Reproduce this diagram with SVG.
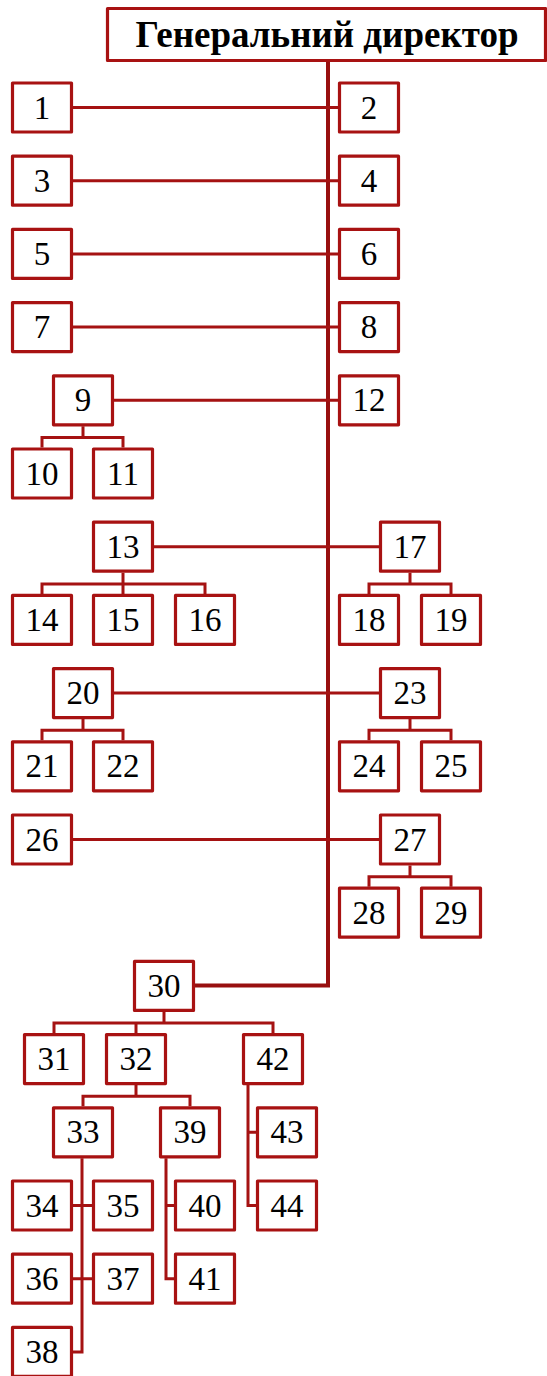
<svg xmlns="http://www.w3.org/2000/svg" width="547" height="1376" viewBox="0 0 547 1376">
<style>
.b rect{fill:#fff;stroke:#A81212;stroke-width:3.2;stroke-linejoin:round}
.b text{font-family:"Liberation Serif","Times New Roman",serif;font-size:33px;fill:#000;text-anchor:middle}
.h text{font-weight:bold;font-size:37px}
.c path{fill:none;stroke:#A51212;stroke-width:3}
.c .s{stroke:#981010;stroke-width:4}
</style>
<rect width="547" height="1376" fill="#fff"/>
<g class="c" id="connectors">
<path class="s" d="M328,62 V985.5 H195"/>
<path d="M73,107.5 H338 M73,180.7 H338 M73,253.9 H338 M73,327.1 H338 M114,400.3 H338 M154,546.7 H379 M114,693.1 H379 M73,839.5 H379"/>
<path d="M83,426.3 V437.5 M42,447.5 V437.5 H123 V447.5"/>
<path d="M123,572.7 V583.9 M42,593.9 V583.9 H205 V593.9 M123,583.9 V593.9"/>
<path d="M410,572.7 V583.9 M369,593.9 V583.9 H451 V593.9"/>
<path d="M83,719.1 V730.3 M42,740.3 V730.3 H123 V740.3"/>
<path d="M410,719.1 V730.3 M369,740.3 V730.3 H451 V740.3"/>
<path d="M410,865.5 V876.7 M369,886.7 V876.7 H451 V886.7"/>
<path d="M164,1011.9 V1023.1 M54,1033.1 V1023.1 H273 V1033.1 M136,1023.1 V1033.1"/>
<path d="M136,1085.1 V1096.3 M83,1106.3 V1096.3 H190 V1106.3"/>
<path d="M248,1085.1 V1205.5 H256 M248,1132.3 H256"/>
<path d="M82,1158.3 V1351.9 H72 M72,1205.5 H92 M72,1278.7 H92"/>
<path d="M166,1158.3 V1278.7 H174 M166,1205.5 H174"/>
</g>
<g class="b h" id="director"><rect x="107.5" y="8.5" width="438" height="52"/><text x="327" y="47">Генеральний директор</text></g>
<g class="b" id="n1" transform="translate(11,81.5)"><rect x="1.5" y="1.5" width="59" height="49"/><text x="31" y="37">1</text></g>
<g class="b" id="n2" transform="translate(338,81.5)"><rect x="1.5" y="1.5" width="59" height="49"/><text x="31" y="37">2</text></g>
<g class="b" id="n3" transform="translate(11,154.7)"><rect x="1.5" y="1.5" width="59" height="49"/><text x="31" y="37">3</text></g>
<g class="b" id="n4" transform="translate(338,154.7)"><rect x="1.5" y="1.5" width="59" height="49"/><text x="31" y="37">4</text></g>
<g class="b" id="n5" transform="translate(11,227.9)"><rect x="1.5" y="1.5" width="59" height="49"/><text x="31" y="37">5</text></g>
<g class="b" id="n6" transform="translate(338,227.9)"><rect x="1.5" y="1.5" width="59" height="49"/><text x="31" y="37">6</text></g>
<g class="b" id="n7" transform="translate(11,301.1)"><rect x="1.5" y="1.5" width="59" height="49"/><text x="31" y="37">7</text></g>
<g class="b" id="n8" transform="translate(338,301.1)"><rect x="1.5" y="1.5" width="59" height="49"/><text x="31" y="37">8</text></g>
<g class="b" id="n9" transform="translate(52,374.3)"><rect x="1.5" y="1.5" width="59" height="49"/><text x="31" y="37">9</text></g>
<g class="b" id="n12" transform="translate(338,374.3)"><rect x="1.5" y="1.5" width="59" height="49"/><text x="31" y="37">12</text></g>
<g class="b" id="n10" transform="translate(11,447.5)"><rect x="1.5" y="1.5" width="59" height="49"/><text x="31" y="37">10</text></g>
<g class="b" id="n11" transform="translate(92,447.5)"><rect x="1.5" y="1.5" width="59" height="49"/><text x="31" y="37">11</text></g>
<g class="b" id="n13" transform="translate(92,520.7)"><rect x="1.5" y="1.5" width="59" height="49"/><text x="31" y="37">13</text></g>
<g class="b" id="n17" transform="translate(379,520.7)"><rect x="1.5" y="1.5" width="59" height="49"/><text x="31" y="37">17</text></g>
<g class="b" id="n14" transform="translate(11,593.9)"><rect x="1.5" y="1.5" width="59" height="49"/><text x="31" y="37">14</text></g>
<g class="b" id="n15" transform="translate(92,593.9)"><rect x="1.5" y="1.5" width="59" height="49"/><text x="31" y="37">15</text></g>
<g class="b" id="n16" transform="translate(174,593.9)"><rect x="1.5" y="1.5" width="59" height="49"/><text x="31" y="37">16</text></g>
<g class="b" id="n18" transform="translate(338,593.9)"><rect x="1.5" y="1.5" width="59" height="49"/><text x="31" y="37">18</text></g>
<g class="b" id="n19" transform="translate(420,593.9)"><rect x="1.5" y="1.5" width="59" height="49"/><text x="31" y="37">19</text></g>
<g class="b" id="n20" transform="translate(52,667.1)"><rect x="1.5" y="1.5" width="59" height="49"/><text x="31" y="37">20</text></g>
<g class="b" id="n23" transform="translate(379,667.1)"><rect x="1.5" y="1.5" width="59" height="49"/><text x="31" y="37">23</text></g>
<g class="b" id="n21" transform="translate(11,740.3)"><rect x="1.5" y="1.5" width="59" height="49"/><text x="31" y="37">21</text></g>
<g class="b" id="n22" transform="translate(92,740.3)"><rect x="1.5" y="1.5" width="59" height="49"/><text x="31" y="37">22</text></g>
<g class="b" id="n24" transform="translate(338,740.3)"><rect x="1.5" y="1.5" width="59" height="49"/><text x="31" y="37">24</text></g>
<g class="b" id="n25" transform="translate(420,740.3)"><rect x="1.5" y="1.5" width="59" height="49"/><text x="31" y="37">25</text></g>
<g class="b" id="n26" transform="translate(11,813.5)"><rect x="1.5" y="1.5" width="59" height="49"/><text x="31" y="37">26</text></g>
<g class="b" id="n27" transform="translate(379,813.5)"><rect x="1.5" y="1.5" width="59" height="49"/><text x="31" y="37">27</text></g>
<g class="b" id="n28" transform="translate(338,886.7)"><rect x="1.5" y="1.5" width="59" height="49"/><text x="31" y="37">28</text></g>
<g class="b" id="n29" transform="translate(420,886.7)"><rect x="1.5" y="1.5" width="59" height="49"/><text x="31" y="37">29</text></g>
<g class="b" id="n30" transform="translate(133,959.9)"><rect x="1.5" y="1.5" width="59" height="49"/><text x="31" y="37">30</text></g>
<g class="b" id="n31" transform="translate(23,1033.1)"><rect x="1.5" y="1.5" width="59" height="49"/><text x="31" y="37">31</text></g>
<g class="b" id="n32" transform="translate(105,1033.1)"><rect x="1.5" y="1.5" width="59" height="49"/><text x="31" y="37">32</text></g>
<g class="b" id="n42" transform="translate(242,1033.1)"><rect x="1.5" y="1.5" width="59" height="49"/><text x="31" y="37">42</text></g>
<g class="b" id="n33" transform="translate(52,1106.3)"><rect x="1.5" y="1.5" width="59" height="49"/><text x="31" y="37">33</text></g>
<g class="b" id="n39" transform="translate(159,1106.3)"><rect x="1.5" y="1.5" width="59" height="49"/><text x="31" y="37">39</text></g>
<g class="b" id="n43" transform="translate(256,1106.3)"><rect x="1.5" y="1.5" width="59" height="49"/><text x="31" y="37">43</text></g>
<g class="b" id="n34" transform="translate(11,1179.5)"><rect x="1.5" y="1.5" width="59" height="49"/><text x="31" y="37">34</text></g>
<g class="b" id="n35" transform="translate(92,1179.5)"><rect x="1.5" y="1.5" width="59" height="49"/><text x="31" y="37">35</text></g>
<g class="b" id="n40" transform="translate(174,1179.5)"><rect x="1.5" y="1.5" width="59" height="49"/><text x="31" y="37">40</text></g>
<g class="b" id="n44" transform="translate(256,1179.5)"><rect x="1.5" y="1.5" width="59" height="49"/><text x="31" y="37">44</text></g>
<g class="b" id="n36" transform="translate(11,1252.7)"><rect x="1.5" y="1.5" width="59" height="49"/><text x="31" y="37">36</text></g>
<g class="b" id="n37" transform="translate(92,1252.7)"><rect x="1.5" y="1.5" width="59" height="49"/><text x="31" y="37">37</text></g>
<g class="b" id="n41" transform="translate(174,1252.7)"><rect x="1.5" y="1.5" width="59" height="49"/><text x="31" y="37">41</text></g>
<g class="b" id="n38" transform="translate(11,1325.9)"><rect x="1.5" y="1.5" width="59" height="49"/><text x="31" y="37">38</text></g>
</svg>
